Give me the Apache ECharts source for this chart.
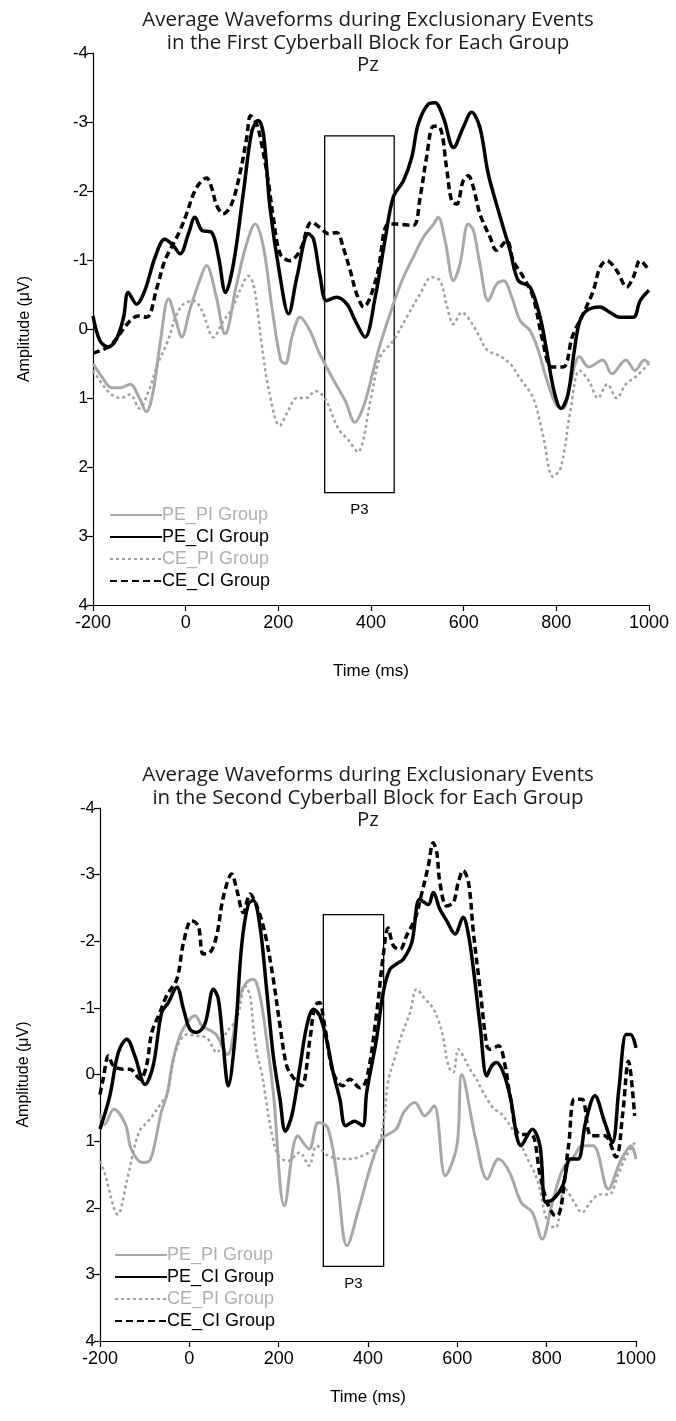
<!DOCTYPE html>
<html>
<head>
<meta charset="utf-8">
<script src="https://cdn.jsdelivr.net/npm/echarts@6/dist/echarts.min.js"></script>
<style>
html,body{margin:0;padding:0;background:#fff;}
#c{width:676px;height:1421px;}
</style>
</head>
<body>
<div id="c"></div>
<script>
// ---------- Block 1 (First Cyberball Block) ----------
const b1_t_PE_PI = [-200,-180,-160,-140,-120,-100,-85,-70,-55,-37,-20,-9,10,30,45,65,85,110,130,150,168,186,205,215,230,247,268,285,300,320,345,365,385,405,420,448,470,491,513,535,545,560,578,592,610,621,635,653,671,686,704,722,743,761,780,800,815,830,850,870,900,920,950,970,990,1000];
const b1_v_PE_PI = [0.5,0.7,0.85,0.85,0.8,1.0,1.2,0.9,0.2,-0.44,-0.1,0.12,-0.3,-0.7,-0.92,-0.5,0.07,-0.65,-1.2,-1.52,-1.18,-0.32,0.45,0.5,0.1,-0.17,0.02,0.3,0.5,0.75,1.05,1.35,1.1,0.6,0.22,-0.36,-0.75,-1.04,-1.33,-1.52,-1.62,-1.28,-0.70,-0.94,-1.52,-1.43,-0.94,-0.41,-0.65,-0.70,-0.46,-0.12,0.02,0.31,0.75,1.1,1.15,0.8,0.4,0.55,0.45,0.65,0.45,0.6,0.45,0.5];

const b1_t_PE_CI = [-200,-185,-167,-149,-134,-124,-106,-88,-66,-45,-27,-12,6,20,35,56,71,86,103,125,143,157,168,182,204,222,240,265,276,290,304,326,348,366,387,409,430,448,470,488,502,524,538,556,578,599,617,635,653,679,700,718,743,765,779,795,810,825,838,850,866,894,916,937,966,981,1000];
const b1_v_PE_CI = [-0.19,0.17,0.26,0.14,-0.17,-0.53,-0.36,-0.56,-1.04,-1.30,-1.21,-1.09,-1.38,-1.62,-1.43,-1.40,-1.04,-0.53,-0.94,-2.00,-2.87,-3.02,-2.82,-1.76,-0.75,-0.22,-0.75,-1.38,-1.30,-0.77,-0.41,-0.46,-0.36,-0.12,0.12,-0.46,-1.28,-1.91,-2.15,-2.49,-2.97,-3.26,-3.28,-3.07,-2.63,-2.92,-3.14,-2.92,-2.25,-1.62,-1.14,-0.70,-0.61,-0.17,0.31,0.90,1.15,0.95,0.35,-0.10,-0.27,-0.32,-0.24,-0.17,-0.17,-0.41,-0.56];

const b1_t_CE_PI = [-200,-180,-160,-140,-120,-100,-80,-60,-40,-20,-5,17,35,60,80,100,120,135,146,157,164,180,203,220,240,260,280,300,330,350,371,400,420,448,477,506,531,549,563,578,596,614,635,650,680,700,720,750,770,793,810,830,850,870,890,910,930,950,970,1000];
const b1_v_CE_PI = [0.6,0.8,0.95,1.0,0.95,1.15,0.9,0.5,0.2,-0.2,-0.36,-0.41,-0.27,0.12,-0.1,-0.3,-0.6,-0.77,-0.65,-0.17,0.22,0.9,1.40,1.2,1.0,1.0,0.9,1.0,1.45,1.6,1.78,1.0,0.4,0.17,-0.17,-0.51,-0.75,-0.70,-0.36,-0.07,-0.24,-0.12,0.12,0.3,0.4,0.5,0.7,1.0,1.5,2.14,2.0,1.2,0.6,0.75,1.0,0.8,1.0,0.8,0.7,0.5];

const b1_t_CE_CI = [-200,-163,-120,-102,-84,-62,-45,-27,-12,2,17,31,45,56,67,81,99,117,132,140,153,164,178,189,204,225,247,272,290,308,326,340,355,369,384,412,437,455,491,506,520,535,549,563,574,585,599,610,621,635,657,671,693,707,729,750,770,790,815,835,858,880,894,909,930,952,966,981,1000];
const b1_v_CE_CI = [0.35,0.24,-0.12,-0.19,-0.17,-0.60,-0.99,-1.23,-1.43,-1.67,-1.96,-2.12,-2.19,-2.05,-1.79,-1.67,-1.81,-2.25,-2.78,-3.09,-2.97,-2.68,-2.15,-1.62,-1.09,-0.99,-1.14,-1.55,-1.47,-1.38,-1.40,-1.18,-0.85,-0.51,-0.32,-0.75,-1.52,-1.52,-1.50,-1.91,-2.49,-2.94,-2.92,-2.34,-1.86,-1.81,-2.15,-2.22,-2.05,-1.67,-1.33,-1.14,-1.28,-0.99,-0.75,-0.46,0.15,0.55,0.55,0.10,-0.22,-0.56,-0.89,-0.99,-0.85,-0.61,-0.75,-0.99,-0.85];

const b1_box = [300, 450, -2.8, 2.37]; // t0, t1, top, bottom

// ---------- Block 2 (Second Cyberball Block) ----------
const b2_t_PE_PI = [-200,-190,-169,-143,-130,-105,-88,-63,-50,-37,-20,1,13,28,42,60,85,113,128,143,158,173,188,213,243,268,289,310,330,353,380,405,430,463,480,505,527,548,573,599,610,641,667,692,717,743,768,790,811,836,862,879,904,938,964,989,1000];
const b2_v_PE_PI = [0.6,0.75,0.52,0.75,1.12,1.32,1.29,0.57,0.3,-0.2,-0.6,-0.83,-0.88,-0.73,-0.68,-0.6,-0.3,-1.18,-1.38,-1.43,-1.18,-0.53,0.27,1.97,0.92,1.12,0.72,0.8,1.5,2.57,2.0,1.4,0.97,0.82,0.57,0.42,0.62,0.47,1.52,1.07,0.0,0.97,1.57,1.27,1.47,1.92,2.07,2.47,1.97,1.42,1.22,1.07,1.07,1.72,1.32,1.07,1.27];

const b2_t_PE_CI = [-200,-178,-159,-140,-122,-99,-81,-62,-47,-28,-13,1,16,35,54,65,76,87,102,117,132,143,158,173,188,203,215,230,248,263,278,292,307,322,337,350,370,388,397,419,434,449,464,479,498,516,535,546,561,576,595,613,624,636,651,666,677,688,703,718,743,768,785,798,815,836,853,870,887,908,930,947,962,978,988,1000];
const b2_v_PE_CI = [0.82,0.32,-0.33,-0.53,-0.28,0.15,-0.13,-0.93,-1.08,-1.31,-0.98,-0.68,-0.63,-0.76,-1.28,-1.13,-0.43,0.17,-0.53,-1.93,-2.56,-2.61,-2.23,-1.28,-0.28,0.37,0.85,0.6,-0.13,-0.73,-0.98,-0.88,-0.53,-0.03,0.37,0.77,0.70,0.77,0.27,-0.53,-1.23,-1.58,-1.66,-1.73,-1.98,-2.63,-2.55,-2.73,-2.48,-2.31,-2.11,-2.36,-2.13,-1.58,-0.73,0.02,-0.13,-0.18,-0.03,0.32,1.07,0.82,1.07,1.92,1.87,1.67,1.27,1.27,0.72,0.32,0.72,1.02,0.2,-0.6,-0.6,-0.4];

const b2_t_CE_PI = [-200,-190,-160,-139,-113,-88,-60,-50,-28,-6,16,39,61,83,106,125,136,143,151,162,169,185,200,221,247,268,285,311,353,387,421,435,445,460,472,494,509,528,542,557,569,580,591,602,613,628,643,654,680,700,730,760,780,802,820,840,860,879,900,920,940,960,980,1000];
const b2_v_CE_PI = [1.3,1.47,2.1,1.57,0.87,0.67,0.4,0.3,-0.4,-0.6,-0.58,-0.55,-0.33,-0.63,-0.83,-1.33,-1.18,-0.73,-0.33,-0.03,0.27,0.9,1.22,1.3,1.17,1.37,1.07,1.22,1.27,1.22,1.07,0.7,0.1,-0.25,-0.53,-0.93,-1.28,-1.13,-1.03,-0.83,-0.53,-0.13,-0.03,-0.38,-0.28,-0.08,0.07,0.22,0.5,0.6,0.9,1.3,1.6,2.22,2.3,1.7,1.9,2.07,1.9,1.8,1.8,1.5,1.2,1.0];

const b2_t_CE_CI = [-200,-193,-181,-170,-148,-133,-110,-96,-84,-66,-51,-28,-13,5,20,31,46,61,76,95,106,121,136,151,169,188,203,218,233,251,270,281,291,303,322,344,359,382,397,419,434,445,457,472,486,505,520,535,546,554,561,576,591,602,613,625,636,651,666,673,692,707,718,740,765,785,800,815,824,849,862,879,900,930,955,970,983,997];
const b2_v_CE_CI = [0.3,0.07,-0.28,-0.13,-0.08,-0.08,0.07,-0.13,-0.63,-0.93,-1.18,-1.43,-1.98,-2.31,-2.23,-1.81,-1.83,-2.08,-2.66,-3.01,-2.78,-2.43,-2.71,-2.53,-2.13,-1.43,-0.73,-0.13,0.05,0.17,-0.53,-1.03,-1.08,-0.73,-0.03,0.17,0.07,0.2,0.07,-0.9,-1.78,-2.2,-1.93,-1.88,-2.08,-2.33,-2.71,-3.13,-3.48,-3.33,-2.88,-2.53,-2.58,-2.88,-3.06,-2.88,-2.13,-1.28,-0.43,-0.38,-0.43,-0.13,0.32,0.9,0.9,1.5,1.9,2.1,2.12,1.07,0.37,0.37,0.92,0.92,1.24,0.6,-0.2,0.62];

const b2_box = [300, 435, -2.4, 2.88];

const groupNames = ['PE_PI Group','PE_CI Group','CE_PI Group','CE_CI Group'];
const titles = [
  'Average Waveforms during Exclusionary Events\nin the First Cyberball Block for Each Group\nPz',
  'Average Waveforms during Exclusionary Events\nin the Second Cyberball Block for Each Group\nPz'
];
const xName = 'Time (ms)';
const yName = 'Amplitude (μV)';
const boxLabel = 'P3';

function zip(t, v){ return t.map((x,i)=>[x, v[i]]); }

const styles = [
  {color:'#a8a8a8', width:3, type:'solid'},
  {color:'#000000', width:3.5, type:'solid'},
  {color:'#a0a0a0', width:2.5, type:[3,3]},
  {color:'#000000', width:3.5, type:[7,4]}
];

const blocks = [
  {data:[zip(b1_t_PE_PI,b1_v_PE_PI), zip(b1_t_PE_CI,b1_v_PE_CI), zip(b1_t_CE_PI,b1_v_CE_PI), zip(b1_t_CE_CI,b1_v_CE_CI)], box:b1_box},
  {data:[zip(b2_t_PE_PI,b2_v_PE_PI), zip(b2_t_PE_CI,b2_v_PE_CI), zip(b2_t_CE_PI,b2_v_CE_PI), zip(b2_t_CE_CI,b2_v_CE_CI)], box:b2_box}
];

const grids = [
  {left:93, top:53, width:556, height:552},
  {left:100, top:808, width:536, height:533}
];
const legendPos = [{left:104, top:501}, {left:109, top:1241}];
const titlePos = [{left:363, top:4}, {left:363, top:759}];
const xNameGap = [58, 48];
const yNameGap = [60, 68];

const FONT = '"Liberation Sans", Arial, sans-serif';

const option = {
  animation:false,
  backgroundColor:'#fff',
  title: titles.map((t,i)=>({
    text:t, left:titlePos[i].left, top:titlePos[i].top, textAlign:'center',
    textStyle:{fontFamily:'"Open Sans", sans-serif', fontSize:20.5, fontWeight:'normal', color:'#1a1a1a', lineHeight:22.5}
  })),
  grid: grids,
  legend: blocks.map((b,i)=>({
    orient:'vertical', left:legendPos[i].left, top:legendPos[i].top,
    itemWidth:52, itemHeight:14, itemGap:4,
    itemStyle:{opacity:0},
    textStyle:{fontFamily:FONT, fontSize:18, padding:[0,0,0,-5]},
    data: groupNames.map((n,k)=>({name:n+' ', textStyle:{color:(k%2===0)?'#b0b0b0':'#000'}}))
  })),
  xAxis: grids.map((g,i)=>({
    type:'value', gridIndex:i, min:-200, max:1000, interval:200,
    name:xName, nameLocation:'middle', nameGap:xNameGap[i],
    nameTextStyle:{fontFamily:FONT, fontSize:17, color:'#000'},
    axisLine:{show:true, onZero:false, lineStyle:{color:'#000', width:1.2}},
    axisTick:{show:true, length:6, lineStyle:{color:'#000', width:1.2}},
    axisLabel:{fontFamily:FONT, fontSize:18, color:'#000', margin:9, formatter:(v)=>String(v)},
    splitLine:{show:false}
  })),
  yAxis: grids.map((g,i)=>({
    type:'value', gridIndex:i, min:-4, max:4, interval:1, inverse:true,
    name:yName, nameLocation:'middle', nameGap:yNameGap[i], nameRotate:90,
    nameTextStyle:{fontFamily:FONT, fontSize:16, color:'#000'},
    axisLine:{show:true, onZero:false, lineStyle:{color:'#000', width:1.2}},
    axisTick:{show:true, length:6, lineStyle:{color:'#000', width:1.2}},
    axisLabel:{fontFamily:FONT, fontSize:17, color:'#000', margin:5, formatter:(v)=>String(v)},
    splitLine:{show:false}
  })),
  series: []
};

blocks.forEach((b,i)=>{
  b.data.forEach((d,k)=>{
    const s = {
      name: groupNames[k]+' ', type:'line', xAxisIndex:i, yAxisIndex:i,
      data:d, showSymbol:false, symbol:'none', smooth:0.35,
      lineStyle:{color:styles[k].color, width:styles[k].width, type:styles[k].type},
      itemStyle:{color:styles[k].color},
      z: (k%2===1)?4:3
    };
    if(k===1){
      s.markArea = {
        silent:true,
        itemStyle:{color:'rgba(0,0,0,0)', borderColor:'#000', borderWidth:1.3},
        label:{show:true, position:'bottom', distance:9, color:'#000', fontFamily:FONT, fontSize:15, formatter:boxLabel},
        data:[[{xAxis:b.box[0], yAxis:b.box[2]},{xAxis:b.box[1], yAxis:b.box[3]}]]
      };
    }
    option.series.push(s);
  });
});

const chart = echarts.init(document.getElementById('c'), null, {renderer:'canvas'});
chart.setOption(option);
</script>
</body>
</html>
